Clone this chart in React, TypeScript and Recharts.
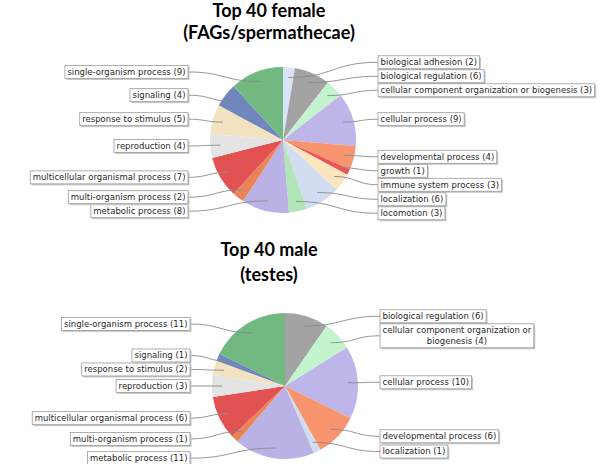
import { PieChart, Pie, Cell } from 'recharts';

const femaleCategories = [
  'biological adhesion', 'biological regulation', 'cellular component organization or biogenesis',
  'cellular process', 'developmental process', 'growth', 'immune system process', 'localization',
  'locomotion', 'metabolic process', 'multi-organism process', 'multicellular organismal process',
  'reproduction', 'response to stimulus', 'signaling', 'single-organism process',
];
const femaleValues = [2, 6, 3, 9, 4, 1, 3, 6, 3, 8, 2, 7, 4, 5, 4, 9];

const maleCategories = [
  'biological regulation', 'cellular component organization or biogenesis', 'cellular process',
  'developmental process', 'localization', 'metabolic process', 'multi-organism process',
  'multicellular organismal process', 'reproduction', 'response to stimulus', 'signaling',
  'single-organism process',
];
const maleValues = [6, 4, 10, 6, 1, 11, 1, 6, 3, 2, 1, 11];

const femaleTitle = ['Top 40 female', '(FAGs/spermathecae)'];
const maleTitle = ['Top 40 male', '(testes)'];

const COLORS: Record<string, string> = {
  'biological adhesion': '#d9e5f7',
  'biological regulation': '#a3a3a3',
  'cellular component organization or biogenesis': '#c4f4cd',
  'cellular process': '#beb6e8',
  'developmental process': '#f8946e',
  'growth': '#ef5454',
  'immune system process': '#fbe6c0',
  'localization': '#d3ddf1',
  'locomotion': '#b2e6b9',
  'metabolic process': '#bab2e4',
  'multi-organism process': '#ea8456',
  'multicellular organismal process': '#e35252',
  'reproduction': '#e4e4e4',
  'response to stimulus': '#f3e2c0',
  'signaling': '#6f87bd',
  'single-organism process': '#71b981',
};

const FONT_SIZE = 8.5;
const FONT = `${FONT_SIZE}px "DejaVu Sans"`;
const LINE_H = 11;
const GAP = 1;
const R = 73;

let ctx: CanvasRenderingContext2D | null = null;
function textWidth(s: string) {
  if (!ctx) ctx = document.createElement('canvas').getContext('2d');
  if (!ctx) return s.length * FONT_SIZE * 0.6;
  ctx.font = FONT;
  return ctx.measureText(s).width;
}

function wrap(text: string, maxW: number) {
  if (textWidth(text) <= maxW) return [text];
  const words = text.split(' ');
  const lines: string[] = [];
  let cur = '';
  words.forEach((w) => {
    const next = cur ? cur + ' ' + w : w;
    if (textWidth(next) > maxW && cur) {
      lines.push(cur);
      cur = w;
    } else cur = next;
  });
  if (cur) lines.push(cur);
  return lines;
}

type Item = { i: number; side: number; desired: number; h: number; y: number; lines: string[]; w: number };

// pushes overlapping labels apart on each side of the pie
function layoutLabels(names: string[], values: number[], maxW: number) {
  const total = values.reduce((a, b) => a + b, 0);
  let cum = 0;
  const items: Item[] = values.map((v, i) => {
    const mid = ((90 - (360 * (cum + v / 2)) / total) * Math.PI) / 180;
    cum += v;
    const lines = wrap(`${names[i]} (${v})`, maxW);
    const w = Math.max(...lines.map(textWidth)) + 5;
    return { i, side: Math.cos(mid) >= 0 ? 1 : -1, desired: -R * Math.sin(mid), h: lines.length * LINE_H + 2, y: 0, lines, w };
  });
  [1, -1].forEach((side) => {
    const sorted = items.filter((it) => it.side === side).sort((a, b) => a.desired - b.desired);
    type Cl = { m: Item[]; top: number; H: number };
    const place = (c: Cl) => {
      let off = 0;
      let sum = 0;
      c.m.forEach((it) => {
        sum += it.desired - (off + it.h / 2);
        off += it.h + GAP;
      });
      c.H = off - GAP;
      c.top = sum / c.m.length;
    };
    const clusters: Cl[] = [];
    sorted.forEach((it) => {
      let c: Cl = { m: [it], top: 0, H: 0 };
      place(c);
      while (clusters.length) {
        const p = clusters[clusters.length - 1];
        if (p.top + p.H + GAP > c.top) {
          clusters.pop();
          c = { m: [...p.m, ...c.m], top: 0, H: 0 };
          place(c);
        } else break;
      }
      clusters.push(c);
    });
    clusters.forEach((c) => {
      let off = c.top;
      c.m.forEach((it) => {
        it.y = off + it.h / 2;
        off += it.h + GAP;
      });
    });
  });
  return items;
}

function makeLabel(items: Item[]) {
  return (props: any) => {
    const { cx, cy, midAngle, outerRadius, index } = props;
    const it = items[index];
    const rad = (midAngle * Math.PI) / 180;
    const ax = cx + outerRadius * 0.86 * Math.cos(rad);
    const ay = cy - outerRadius * 0.86 * Math.sin(rad);
    const ly = cy + it.y;
    const ex = cx + it.side * 95;
    const bx = it.side > 0 ? ex : ex - it.w;
    const by = ly - it.h / 2;
    const k = Math.abs(ex - ax) * 0.5;
    return (
      <g key={`lbl-${index}`}>
        <path
          d={`M${ax},${ay} C${ax + it.side * k},${ay} ${ex - it.side * k},${ly} ${ex},${ly}`}
          fill="none"
          stroke="#8a8a8a"
          strokeWidth={0.9}
        />
        <rect x={bx + 1.5} y={by + 1.5} width={it.w} height={it.h} fill="#c9c9c9" />
        <rect x={bx} y={by} width={it.w} height={it.h} fill="#fff" stroke="#9a9a9a" strokeWidth={0.8} />
        {it.lines.map((ln, j) => (
          <text
            key={j}
            x={bx + it.w / 2}
            y={by + 1 + j * LINE_H + 8.3}
            textAnchor="middle"
            fontFamily="DejaVu Sans"
            fontSize={FONT_SIZE}
            fill="#2a2a2a"
          >
            {ln}
          </text>
        ))}
      </g>
    );
  };
}

const femaleData = femaleCategories.map((name, i) => ({ name, value: femaleValues[i] }));
const maleData = maleCategories.map((name, i) => ({ name, value: maleValues[i] }));

function Title({ lines, y1, y2 }: { lines: string[]; y1: number; y2: number }) {
  return (
    <>
      {lines.map((t, i) => (
        <text
          key={t}
          x={269}
          y={i === 0 ? y1 : y2}
          textAnchor="middle"
          fontFamily="Lato, sans-serif"
          fontWeight={700}
          fontSize={18}
          fill="#000"
        >
          {t}
        </text>
      ))}
    </>
  );
}

export default function App() {
  const femaleLabels = layoutLabels(femaleCategories, femaleValues, 260);
  const maleLabels = layoutLabels(maleCategories, maleValues, 190);
  return (
    <div style={{ position: 'relative', width: 600, height: 464, background: '#fff' }}>
      <style>{'body{margin:0}'}</style>
      <PieChart width={600} height={464} style={{ position: 'absolute', left: 0, top: 0 }}>
        <Pie
          data={femaleData}
          dataKey="value"
          nameKey="name"
          cx={278}
          cy={135}
          outerRadius={R}
          startAngle={90}
          endAngle={-270}
          stroke="none"
          labelLine={false}
          label={makeLabel(femaleLabels)}
          isAnimationActive={false}
        >
          {femaleData.map((d) => (
            <Cell key={d.name} fill={COLORS[d.name]} />
          ))}
        </Pie>
        <Pie
          data={maleData}
          dataKey="value"
          nameKey="name"
          cx={280}
          cy={381}
          outerRadius={R}
          startAngle={90}
          endAngle={-270}
          stroke="none"
          labelLine={false}
          label={makeLabel(maleLabels)}
          isAnimationActive={false}
        >
          {maleData.map((d) => (
            <Cell key={d.name} fill={COLORS[d.name]} />
          ))}
        </Pie>
      </PieChart>
      <svg width={600} height={464} style={{ position: 'absolute', left: 0, top: 0, pointerEvents: 'none' }}>
        <Title lines={femaleTitle} y1={17} y2={39} />
        <Title lines={maleTitle} y1={256} y2={281} />
      </svg>
    </div>
  );
}
